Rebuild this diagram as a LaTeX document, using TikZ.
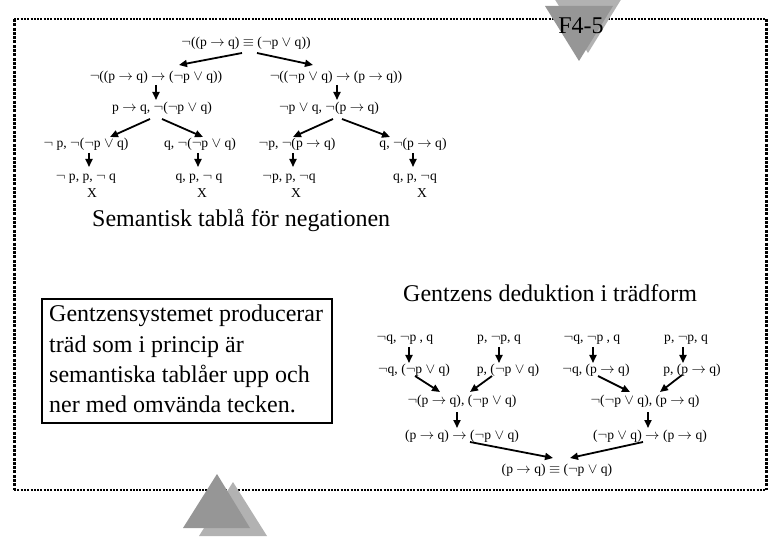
\documentclass[tikz,border=0pt]{standalone}
\usepackage{fontspec}
\setmainfont{Liberation Serif}
\usetikzlibrary{arrows.meta}
\newcommand\Vor{$\vee$}
\newcommand\Ng{$\neg$}
\newcommand\Imp{$\rightarrow$}
\newcommand\Eqv{$\equiv$}
\definecolor{tridark}{RGB}{150,150,150}
\definecolor{trilight}{RGB}{178,178,178}
\begin{document}
\begin{tikzpicture}[x=1pt,y=-1pt,
  tt/.style={font=\fontsize{13.6}{15}\selectfont, inner sep=0pt},
  big/.style={font=\fontsize{24}{30}\selectfont, inner sep=0pt},
  arr/.style={line width=1.8pt,-{Triangle[length=8pt,width=7pt]}},
  hframe/.style={line width=2pt, dash pattern=on 2pt off 1.3pt},
  vframe/.style={line width=3pt, dash pattern=on 3pt off 1.3pt}]
\useasboundingbox (0,0) rectangle (780,540);
% frame
\draw[hframe] (14,19) -- (766,19);
\draw[hframe] (14,490) -- (766,490);
\draw[vframe] (14,19) -- (14,490);
\draw[vframe] (766,19) -- (766,490);
% triangles
\fill[trilight] (554,-2) -- (622,-2) -- (588,53) -- cycle;
\fill[tridark] (545,6) -- (613,6) -- (579,61) -- cycle;
\fill[trilight] (233,482) -- (267,536) -- (199,536) -- cycle;
\fill[tridark] (217,474) -- (250,528) -- (183,528) -- cycle;
\node[big] (title) at (581,26) {F4-5};
% top tree
\node[tt] (r) at (246,43) {\Ng((p \Imp{} q) \Eqv{} (\Ng p \Vor{} q))};
\node[tt] (a1) at (156,77) {\Ng((p \Imp{} q) \Imp{} (\Ng p \Vor{} q))};
\node[tt] (a2) at (336,77) {\Ng((\Ng p \Vor{} q) \Imp{} (p \Imp{} q))};
\node[tt] (b1) at (162,108) {p \Imp{} q, \Ng(\Ng p \Vor{} q)};
\node[tt] (b2) at (329,108) {\Ng p \Vor{} q, \Ng(p \Imp{} q)};
\node[tt] (c1) at (86,144) {\Ng{} p, \Ng(\Ng p \Vor{} q)};
\node[tt] (c2) at (200,144) {q, \Ng(\Ng p \Vor{} q)};
\node[tt] (c3) at (297,144) {\Ng p, \Ng(p \Imp{} q)};
\node[tt] (c4) at (413,144) {q, \Ng(p \Imp{} q)};
\node[tt] (d1) at (86,179) {\Ng{} p, p, \Ng{} q};
\node[tt] (d2) at (199,179) {q, p, \Ng{} q};
\node[tt] (d3) at (289,179) {\Ng p, p, \Ng q};
\node[tt] (d4) at (415,179) {q, p, \Ng q};
\node[tt] (x1) at (92,193) {X};
\node[tt] (x2) at (202,193) {X};
\node[tt] (x3) at (296,193) {X};
\node[tt] (x4) at (422,193) {X};
\draw[arr] ([shift={(-4,10)}]r.center) -- ([shift={(23,-12)}]a1.center);
\draw[arr] ([shift={(11,10)}]r.center) -- ([shift={(-23,-12)}]a2.center);
\draw[arr] ([shift={(0,8)}]a1.center) -- ([shift={(-6,-8)}]b1.center);
\draw[arr] ([shift={(1,8)}]a2.center) -- ([shift={(8,-8)}]b2.center);
\draw[arr] ([shift={(-12,11)}]b1.center) -- ([shift={(24,-7)}]c1.center);
\draw[arr] ([shift={(0,11)}]b1.center) -- ([shift={(3,-7)}]c2.center);
\draw[arr] ([shift={(4,11)}]b2.center) -- ([shift={(-4,-7)}]c3.center);
\draw[arr] ([shift={(13,11)}]b2.center) -- ([shift={(-23,-7)}]c4.center);
\draw[arr] ([shift={(3,9)}]c1.center) -- ([shift={(3,-12)}]d1.center);
\draw[arr] ([shift={(-2,9)}]c2.center) -- ([shift={(-1,-12)}]d2.center);
\draw[arr] ([shift={(-4,9)}]c3.center) -- ([shift={(4,-12)}]d3.center);
\draw[arr] ([shift={(0,9)}]c4.center) -- ([shift={(-2,-12)}]d4.center);
% headings
\node[big, anchor=base west] (h1) at (92,227) {Semantisk tablå för negationen};
\node[big, anchor=base west] (h2) at (403,302) {Gentzens deduktion i trädform};
% left box
\draw[line width=2pt] (42,299) rectangle (332,423);
\node[big, anchor=base west] (p1) at (49,322) {Gentzensystemet producerar};
\node[big, anchor=base west] (p2) at (49,353) {träd som i princip är};
\node[big, anchor=base west] (p3) at (49,383) {semantiska tablåer upp och};
\node[big, anchor=base west] (p4) at (49,413) {ner med omvända tecken.};
% Gentzen tree
\node[tt] (g1) at (405,340) {\Ng q, \Ng p , q};
\node[tt] (g2) at (499,340) {p, \Ng p, q};
\node[tt] (g3) at (592,340) {\Ng q, \Ng p , q};
\node[tt] (g4) at (686,340) {p, \Ng p, q};
\node[tt] (k1) at (414,370) {\Ng q, (\Ng p \Vor{} q)};
\node[tt] (k2) at (508,370) {p, (\Ng p \Vor{} q)};
\node[tt] (k3) at (596,370) {\Ng q, (p \Imp{} q)};
\node[tt] (k4) at (692,370) {p, (p \Imp{} q)};
\node[tt] (m1) at (462,401) {\Ng(p \Imp{} q), (\Ng p \Vor{} q)};
\node[tt] (m2) at (645,401) {\Ng(\Ng p \Vor{} q), (p \Imp{} q)};
\node[tt] (n1) at (462,436) {(p \Imp{} q) \Imp{} (\Ng p \Vor{} q)};
\node[tt] (n2) at (650,436) {(\Ng p \Vor{} q) \Imp{} (p \Imp{} q)};
\node[tt] (f) at (557,470) {(p \Imp{} q) \Eqv{} (\Ng p \Vor{} q)};
\draw[arr] ([shift={(4,7)}]g1.center) -- ([shift={(-5,-7)}]k1.center);
\draw[arr] ([shift={(0,7)}]g2.center) -- ([shift={(-9,-7)}]k2.center);
\draw[arr] ([shift={(1,7)}]g3.center) -- ([shift={(-3,-7)}]k3.center);
\draw[arr] ([shift={(-3,7)}]g4.center) -- ([shift={(-9,-7)}]k4.center);
\draw[arr] ([shift={(1,6)}]k1.center) -- ([shift={(-22,-9)}]m1.center);
\draw[arr] ([shift={(-16,6)}]k2.center) -- ([shift={(8,-9)}]m1.center);
\draw[arr] ([shift={(2,6)}]k3.center) -- ([shift={(-15,-9)}]m2.center);
\draw[arr] ([shift={(-10,5)}]k4.center) -- ([shift={(15,-9)}]m2.center);
\draw[arr] ([shift={(-5,11)}]m1.center) -- ([shift={(-5,-8)}]n1.center);
\draw[arr] ([shift={(3,11)}]m2.center) -- ([shift={(-2,-8)}]n2.center);
\draw[arr] ([shift={(8,6)}]n1.center) -- ([shift={(-4,-12)}]f.center);
\draw[arr] ([shift={(-7,6)}]n2.center) -- ([shift={(13,-12)}]f.center);
\end{tikzpicture}
\end{document}
